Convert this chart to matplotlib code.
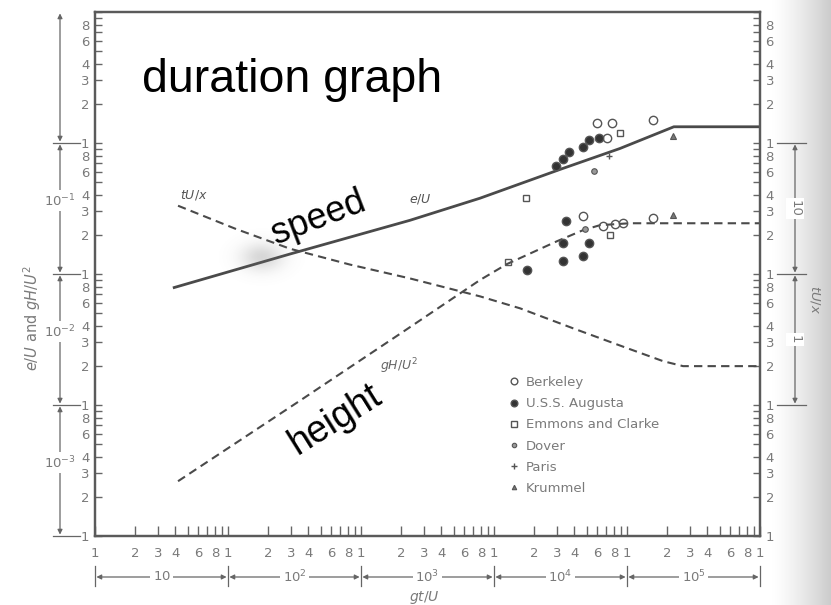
import numpy as np
import matplotlib
matplotlib.use("Agg")
import matplotlib.pyplot as plt
from matplotlib.ticker import FixedLocator, FixedFormatter
from matplotlib.patches import Rectangle

# ---- curves: gt/U on x ----
speed_t = [38.5, 292, 2335, 7850, 31300, 88500, 225000, 1e6]
speed_v = [0.0783, 0.142, 0.257, 0.379, 0.628, 0.908, 1.33, 1.33]          # e/U

height_t = [42.1, 348, 2070, 7850, 12500, 29800, 46700, 62700, 105000, 1e6]
height_v = [0.00262, 0.0108, 0.0362, 0.090, 0.119, 0.178, 0.216, 0.236, 0.244, 0.244]  # gH/U^2

fetch_t = [42.1, 113, 292, 826, 2335, 7850, 15700, 39300, 105000, 187000, 264000, 1e6]
fetch_v = [33.2, 22.2, 15.6, 11.8, 9.25, 6.75, 5.47, 3.85, 2.67, 2.16, 1.98, 1.98]  # tU/x

# ---- observations (gt/U, value) ----
berkeley_t = [59400, 77100, 156700, 70800, 46700, 66100, 81300, 93300, 156700]
berkeley_v = [1.43, 1.43, 1.51, 1.10, 0.276, 0.232, 0.24, 0.244, 0.267]
augusta_t = [29200, 33000, 36600, 46700, 51800, 61500, 34800, 33000, 33000, 46700, 51800, 17700]
augusta_v = [0.662, 0.75, 0.86, 0.925, 1.06, 1.10, 0.253, 0.172, 0.126, 0.137, 0.172, 0.107]
emmons_t = [88500, 17400, 12700, 74500]
emmons_v = [1.20, 0.378, 0.123, 0.198]
dover_t = [56500, 48300]
dover_v = [0.61, 0.22]
paris_t = [73300]
paris_v = [0.79]
krummel_t = [222000, 222000]
krummel_v = [1.14, 0.281]

legend_names = ["Berkeley", "U.S.S. Augusta", "Emmons and Clarke", "Dover", "Paris", "Krummel"]
minor_labels = {2: "2", 3: "3", 4: "4", 6: "6", 8: "8"}

W, H = 831, 605
fig = plt.figure(figsize=(W / 100, H / 100), dpi=100)

# paper background, darkening toward the binding on the right
bg = fig.add_axes([0, 0, 1, 1], zorder=-10)
bg.axis("off")
xs = np.linspace(0, 1, W)
shade = np.where(xs < 0.93, 1.0, 1.0 - 0.2 * ((xs - 0.93) / 0.07) ** 1.3)
grad = np.tile(shade, (H, 1))
bg.imshow(np.dstack([grad, grad, grad]), aspect="auto", extent=[0, 1, 0, 1])
bg.set_xlim(0, 1)
bg.set_ylim(0, 1)

def px(x, y):
    return x / W, 1 - y / H

L, R, T, B = 95, 760, 12, 536
ax = fig.add_axes([L / W, 1 - B / H, (R - L) / W, (B - T) / H])
ax.patch.set_alpha(0)
ax.set_xscale("log")
ax.set_yscale("log")
ax.set_xlim(10, 1e6)
ax.set_ylim(1e-3, 10)

ink = "#4a4a4a"
grey = "#7a7a7a"

ax.plot(speed_t, speed_v, color=ink, lw=2.0, solid_capstyle="butt")
ax.plot(height_t, height_v, color=ink, lw=1.5, dashes=(4, 2.5))

ax2 = ax.twinx()
ax2.set_yscale("log")
ax2.set_ylim(0.1, 1000)
ax2.plot(fetch_t, fetch_v, color=ink, lw=1.5, dashes=(4, 2.5))

ms = dict(markeredgecolor="#555555", linestyle="none")
h1, = ax.plot(berkeley_t, berkeley_v, marker="o", ms=6, mfc="none", mew=1.0, **ms)
h2, = ax.plot(augusta_t, augusta_v, marker="o", ms=6, mfc="#333333", mew=1.0, **ms)
h3, = ax.plot(emmons_t, emmons_v, marker="s", ms=5, mfc="none", mew=1.0, **ms)
h4, = ax.plot(dover_t, dover_v, marker="o", ms=4, mfc="#999999", mew=0.8, **ms)
h5, = ax.plot(paris_t, paris_v, marker="+", ms=5, mew=1.0, **ms)
h6, = ax.plot(krummel_t, krummel_v, marker="^", ms=4, mfc="#777777", mew=0.8, **ms)

leg = ax.legend([h1, h2, h3, h4, h5, h6], legend_names, loc="upper left",
                bbox_to_anchor=((509 - L) / (R - L), (B - 376) / (B - T)),
                frameon=False, fontsize=9.5, handlelength=0.8, handletextpad=0.5,
                labelspacing=0.62, borderpad=0, borderaxespad=0, markerscale=0.8)
for t in leg.get_texts():
    t.set_color(grey)

# ---- axes styling ----
def decade_ticks(lo, hi):
    major = [10.0 ** k for k in range(lo, hi + 1)]
    minor, mlab = [], []
    for k in range(lo, hi):
        for m in range(2, 10):
            minor.append(m * 10.0 ** k)
            mlab.append(minor_labels.get(m, ""))
    return major, minor, mlab

for a, axis, lo, hi, top_lab in [(ax, ax.xaxis, 1, 6, True), (ax, ax.yaxis, -3, 1, False),
                                  (ax2, ax2.yaxis, -1, 3, False)]:
    major, minor, mlab = decade_ticks(lo, hi)
    mj = ["1"] * len(major)
    if not top_lab:
        mj[-1] = ""
    axis.set_major_locator(FixedLocator(major))
    axis.set_major_formatter(FixedFormatter(mj))
    axis.set_minor_locator(FixedLocator(minor))
    axis.set_minor_formatter(FixedFormatter(mlab))

ax.tick_params(axis="x", which="both", direction="in", length=7, width=1.0, color="#666666",
               labelsize=9.5, labelcolor=grey, pad=8, top=False)
ax.tick_params(axis="y", which="both", direction="in", length=5, width=1.0, color="#666666",
               labelsize=9.5, labelcolor=grey, pad=4, right=False)
ax2.tick_params(axis="y", which="both", direction="in", length=5, width=1.0, color="#666666",
                labelsize=9.5, labelcolor=grey, pad=4)
for a in (ax, ax2):
    for s in a.spines.values():
        s.set_color("#5a5a5a")
        s.set_linewidth(1.6)

# ---- decade brackets ----
bk = dict(arrowstyle="<|-|>", color="#666666", lw=0.9, mutation_scale=7, shrinkA=1, shrinkB=1)
xtr = ax.get_xaxis_transform()
yb = -(577 - B) / (B - T)
for k, lab in zip(range(1, 6), ["$10$", "$10^2$", "$10^3$", "$10^4$", "$10^5$"]):
    a0, a1 = 10.0 ** k, 10.0 ** (k + 1)
    ax.annotate("", xy=(a0, yb), xytext=(a1, yb), xycoords=xtr, textcoords=xtr,
                arrowprops=bk, annotation_clip=False)
    ax.text(np.sqrt(a0 * a1), yb, lab, transform=xtr, ha="center", va="center",
            fontsize=9.5, color=grey, bbox=dict(fc="white", ec="none", pad=1.5), clip_on=False)
for k in range(1, 7):
    ax.plot([10.0 ** k] * 2, [-(566 - B) / (B - T), -(586 - B) / (B - T)], transform=xtr,
            color="#666666", lw=0.9, clip_on=False)

ytr = ax.get_yaxis_transform()
xl = (60 - L) / (R - L)
for k, lab in zip(range(-3, 1), ["$10^{-3}$", "$10^{-2}$", "$10^{-1}$", ""]):
    a0, a1 = 10.0 ** k, 10.0 ** (k + 1)
    ax.annotate("", xy=(xl, a0), xytext=(xl, a1), xycoords=ytr, textcoords=ytr,
                arrowprops=bk, annotation_clip=False)
    if lab:
        ax.text(xl, np.sqrt(a0 * a1) * 1.15, lab, transform=ytr, ha="center", va="center",
                fontsize=9.5, color=grey, bbox=dict(fc="white", ec="none", pad=1.5), clip_on=False)
for k in range(-3, 1):
    ax.plot([(53 - L) / (R - L), (80 - L) / (R - L)], [10.0 ** k] * 2, transform=ytr,
            color="#666666", lw=0.9, clip_on=False)

ytr2 = ax2.get_yaxis_transform()
xr = (795 - L) / (R - L)
for k, lab in zip(range(0, 2), ["1", "10"]):
    a0, a1 = 10.0 ** k, 10.0 ** (k + 1)
    ax2.annotate("", xy=(xr, a0), xytext=(xr, a1), xycoords=ytr2, textcoords=ytr2,
                 arrowprops=bk, annotation_clip=False)
    ax2.text(xr, np.sqrt(a0 * a1), lab, transform=ytr2, ha="center", va="center",
             fontsize=9.5, color=grey, rotation=270,
             bbox=dict(fc="white", ec="none", pad=1.5), clip_on=False)
for k in range(0, 3):
    ax2.plot([(777 - L) / (R - L), (806 - L) / (R - L)], [10.0 ** k] * 2, transform=ytr2,
             color="#666666", lw=0.9, clip_on=False)

# ---- axis titles and curve labels ----
fig.text(*px(424, 598), "$gt/U$", ha="center", va="center", fontsize=10, color=grey)
fig.text(*px(32, 318), "$e/U$ and $gH/U^2$", ha="center", va="center", fontsize=10.5,
         color=grey, rotation=90)
fig.text(*px(815, 300), "$tU/x$", ha="center", va="center", fontsize=9.5, color=grey,
         rotation=270)
fig.text(*px(194, 195), "$tU/x$", ha="center", va="center", fontsize=9, color="#555555")
fig.text(*px(420, 199), "$e/U$", ha="center", va="center", fontsize=9, color="#555555")
fig.text(*px(399, 366), "$gH/U^2$", ha="center", va="center", fontsize=9, color="#666666")

# smudge where the curves cross
hz = fig.add_axes([(262 - 45) / W, 1 - (257 + 32) / H, 90 / W, 64 / H], zorder=5)
hz.axis("off")
gx, gy = np.meshgrid(np.linspace(-45, 45, 90), np.linspace(-32, 32, 64))
alpha = 0.28 * np.exp(-(gx ** 2) / (2 * 15 ** 2) - (gy ** 2) / (2 * 10 ** 2))
rgba = np.zeros((64, 90, 4))
rgba[..., :3] = 0.45
rgba[..., 3] = alpha
hz.imshow(rgba, aspect="auto", extent=[0, 1, 0, 1])

# ---- title panel and overlay words ----
ov = fig.add_axes([0, 0, 1, 1], zorder=10)
ov.axis("off")
ov.set_xlim(0, 1)
ov.set_ylim(0, 1)
x0, y0 = px(118, 115)
x1, y1 = px(470, 33)
ov.add_patch(Rectangle((x0, y0), x1 - x0, y1 - y0, fc="white", ec="none"))
ov.text(*px(142, 92), "duration graph", fontsize=33.5, family="Liberation Sans",
        ha="left", va="baseline", color="black")
ov.text(*px(318, 218), "speed", fontsize=26, family="Liberation Sans", rotation=21,
        ha="center", va="center", color="black", rotation_mode="anchor")
ov.text(*px(335, 420), "height", fontsize=27, family="Liberation Sans", rotation=32,
        ha="center", va="center", color="black", rotation_mode="anchor")

fig.savefig("out.png", dpi=100)
